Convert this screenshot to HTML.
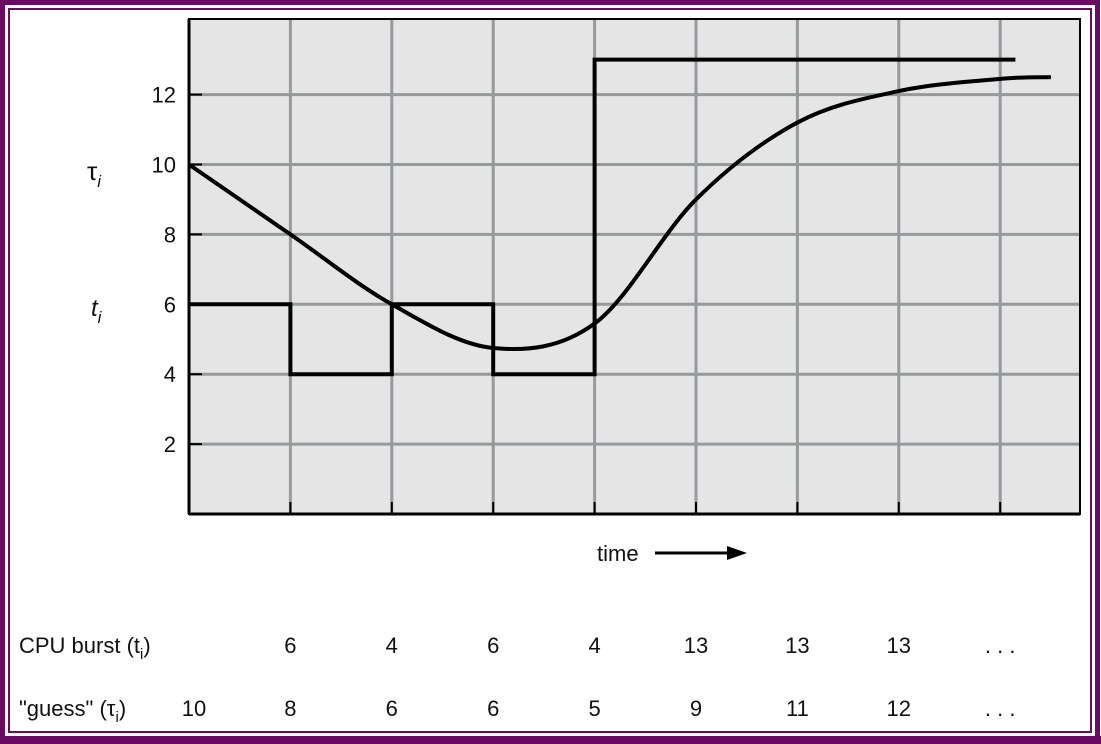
<!DOCTYPE html>
<html><head><meta charset="utf-8"><style>
html,body{margin:0;padding:0;background:#fff}
svg{display:block}
text{font-family:"Liberation Sans",sans-serif;fill:#111}
</style></head><body>
<svg width="1101" height="744" viewBox="0 0 1101 744">
<rect x="0" y="0" width="1101" height="744" fill="#fff"/>
<rect x="2.5" y="2.5" width="1095" height="737" fill="none" stroke="#6b0a62" stroke-width="5"/>
<rect x="9" y="9" width="1082" height="723" fill="none" stroke="#6b0a62" stroke-width="2"/>
<rect x="0" y="736" width="1101" height="8" fill="#6b0a62"/>
<g id="plot"></g>
</svg>
<script>
const xCats=[0,1,2,3,4,5,6,7,8];
const yTicks=[2,4,6,8,10,12];
const burstVals=[6,4,6,4,13,13,13,13];
const burstEnd=8.15;
const guessX=[0,1,2,3,4,5,6,7,8,8.5];
const guessY=[10,8,6,4.75,5.45,9,11.2,12.1,12.45,12.5];
const burstLabels=["6","4","6","4","13","13","13",". . ."];
const guessLabels=["10","8","6","6","5","9","11","12",". . ."];

const NS="http://www.w3.org/2000/svg";
const g=document.getElementById('plot');
const L=189,T=19,R=1080,B=514;
const xs=v=>L+v*101.4;
const ys=v=>B-v*34.95;
function mk(tag,attrs,parent){const e=document.createElementNS(NS,tag);for(const k in attrs)e.setAttribute(k,attrs[k]);(parent||g).appendChild(e);return e;}

const bg=mk('rect',{x:L,y:T,width:R-L,height:B-T,fill:'#e5e5e5'});


xCats.slice(1).forEach(c=>{const l=mk('line',{x1:xs(c),x2:xs(c),y1:T,y2:B,stroke:'#959a9b','stroke-width':3});


mk('line',{x1:xs(c),x2:xs(c),y1:B,y2:B-12,stroke:'#000','stroke-width':2});});
yTicks.forEach(t=>{const l=mk('line',{x1:L,x2:R,y1:ys(t),y2:ys(t),stroke:'#959a9b','stroke-width':3});


mk('line',{x1:L,x2:L+13,y1:ys(t),y2:ys(t),stroke:'#000','stroke-width':2});
const tx=mk('text',{x:176,y:ys(t)+8,'text-anchor':'end','font-size':22});tx.textContent=t;

});
mk('rect',{x:L,y:T,width:R-L,height:B-T,fill:'none',stroke:'#000','stroke-width':2});
mk('line',{x1:L,x2:L,y1:T,y2:B,stroke:'#000','stroke-width':3});
mk('line',{x1:L,x2:R,y1:B,y2:B,stroke:'#000','stroke-width':3});

let d='M'+xs(0)+' '+ys(burstVals[0]);
burstVals.forEach((v,i)=>{d+=' L'+xs(i)+' '+ys(v)+' L'+xs(Math.min(i+1,burstEnd))+' '+ys(v);});
d+=' L'+xs(burstEnd)+' '+ys(burstVals[burstVals.length-1]);
const bp=mk('path',{d:d,fill:'none',stroke:'#000','stroke-width':4,'stroke-linejoin':'miter'});



const P=guessX.map((x,i)=>[xs(x),ys(guessY[i])]);
let c='M'+P[0][0]+' '+P[0][1];
for(let i=0;i<P.length-1;i++){const p0=P[Math.max(i-1,0)],p1=P[i],p2=P[i+1],p3=P[Math.min(i+2,P.length-1)];
c+=' C'+(p1[0]+(p2[0]-p0[0])/6)+' '+(p1[1]+(p2[1]-p0[1])/6)+' '+(p2[0]-(p3[0]-p1[0])/6)+' '+(p2[1]-(p3[1]-p1[1])/6)+' '+p2[0]+' '+p2[1];}
const gp=mk('path',{d:c,fill:'none',stroke:'#000','stroke-width':4});



let s=mk('text',{x:87,y:180,'font-size':26,'font-family':'"DejaVu Serif",serif'});s.textContent='τ';
let si=mk('tspan',{'font-size':17,'font-style':'italic',dy:7},s);si.textContent='i';


s=mk('text',{x:91,y:316,'font-size':24,'font-style':'italic'});s.textContent='t';
si=mk('tspan',{'font-size':17,dy:7},s);si.textContent='i';



s=mk('text',{x:597,y:561,'font-size':22});s.textContent='time';


mk('line',{x1:655,x2:730,y1:553,y2:553,stroke:'#000','stroke-width':3});
mk('polygon',{points:'727,546 747,553 727,560',fill:'#000'});

s=mk('text',{x:19,y:653,'font-size':22});s.textContent='CPU burst (t';
si=mk('tspan',{'font-size':15,dy:6},s);si.textContent='i';
si=mk('tspan',{dy:-6},s);si.textContent=')';


s=mk('text',{x:19,y:716,'font-size':22});s.textContent='"guess" (τ';
si=mk('tspan',{'font-size':15,dy:6},s);si.textContent='i';
si=mk('tspan',{dy:-6},s);si.textContent=')';


burstLabels.forEach((t,i)=>{const e=mk('text',{x:xs(i+1),y:653,'text-anchor':'middle','font-size':22});e.textContent=t;

});
guessLabels.forEach((t,i)=>{const e=mk('text',{x:xs(i)+(i==0?5:0),y:716,'text-anchor':'middle','font-size':22});e.textContent=t;

});
</script>
</body></html>
